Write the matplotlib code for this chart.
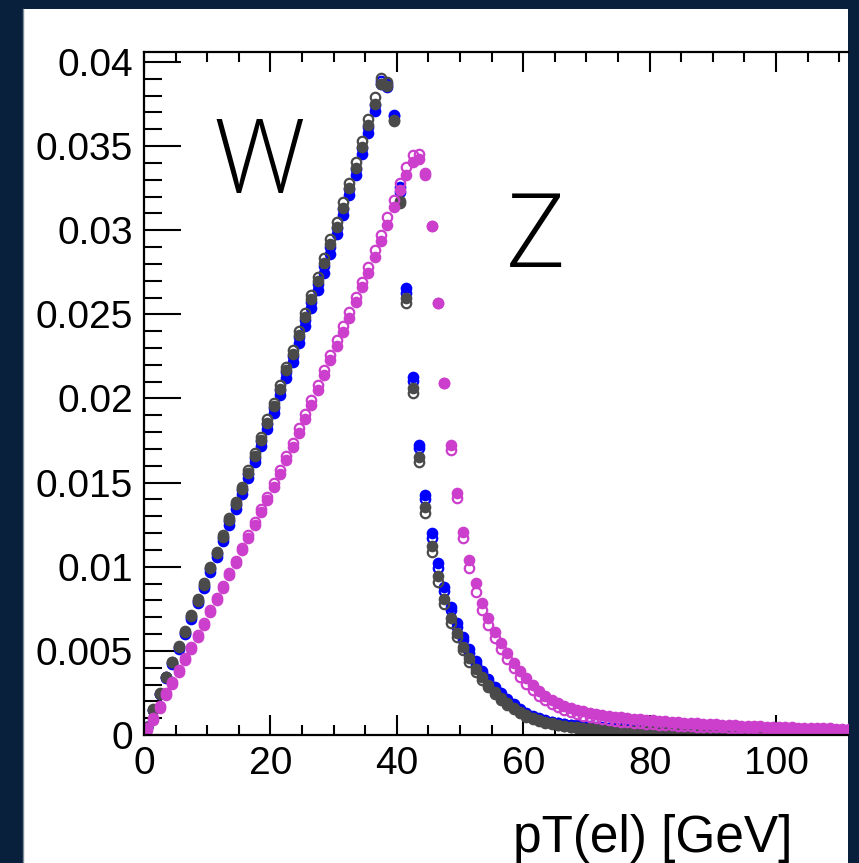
import numpy as np
import matplotlib
matplotlib.use("Agg")
import matplotlib.pyplot as plt
from matplotlib.patches import Rectangle
from matplotlib.lines import Line2D
from matplotlib.ticker import FixedLocator, FixedFormatter, MultipleLocator

plt.rcParams['font.family'] = ['Liberation Sans', 'DejaVu Sans']

# Electron pT spectra, 1 GeV bins starting at 0 GeV (normalised)
bin_width = 1.0

w_blue_fill = [
    0.00048, 0.00148, 0.00241, 0.00337, 0.00423, 0.00513, 0.00599, 0.00692, 0.00782, 0.00875,
    0.00970, 0.01057, 0.01153, 0.01249, 0.01345, 0.01432, 0.01528, 0.01624, 0.01720, 0.01820,
    0.01916, 0.02018, 0.02123, 0.02219, 0.02328, 0.02432, 0.02537, 0.02642, 0.02748, 0.02858,
    0.02978, 0.03093, 0.03211, 0.03330, 0.03452, 0.03579, 0.03707, 0.03868, 0.03854, 0.03685,
    0.03260, 0.02655, 0.02130, 0.01724, 0.01427, 0.01199, 0.01024, 0.00882, 0.00763, 0.00664,
    0.00584, 0.00509, 0.00440, 0.00382, 0.00331, 0.00287, 0.00248, 0.00212, 0.00182, 0.00155,
    0.00129, 0.00113, 0.00100, 0.00089, 0.00080, 0.00073, 0.00067, 0.00062, 0.00058, 0.00054,
    0.00051, 0.00048, 0.00046, 0.00044, 0.00042, 0.00040, 0.00039, 0.00037, 0.00036, 0.00035,
    0.00034, 0.00033, 0.00032, 0.00031, 0.00030, 0.00029, 0.00029, 0.00028, 0.00027, 0.00027,
    0.00026, 0.00026, 0.00025, 0.00025, 0.00024, 0.00024, 0.00023, 0.00023, 0.00022, 0.00022,
    0.00022, 0.00021, 0.00021, 0.00021, 0.00020, 0.00020, 0.00020, 0.00019, 0.00019, 0.00019,
    0.00018, 0.00018,
]

w_blue_open = [
    0.00049, 0.00151, 0.00244, 0.00342, 0.00429, 0.00521, 0.00609, 0.00702, 0.00794, 0.00888,
    0.00985, 0.01074, 0.01171, 0.01269, 0.01366, 0.01454, 0.01551, 0.01649, 0.01746, 0.01848,
    0.01945, 0.02049, 0.02156, 0.02254, 0.02364, 0.02469, 0.02576, 0.02683, 0.02790, 0.02902,
    0.03014, 0.03127, 0.03244, 0.03364, 0.03488, 0.03616, 0.03745, 0.03885, 0.03868, 0.03680,
    0.03230, 0.02626, 0.02106, 0.01704, 0.01401, 0.01170, 0.00995, 0.00858, 0.00740, 0.00643,
    0.00563, 0.00490, 0.00424, 0.00368, 0.00319, 0.00277, 0.00240, 0.00205, 0.00176, 0.00150,
    0.00124, 0.00108, 0.00095, 0.00084, 0.00076, 0.00069, 0.00063, 0.00058, 0.00054, 0.00050,
    0.00047, 0.00044, 0.00042, 0.00040, 0.00038, 0.00037, 0.00035, 0.00034, 0.00033, 0.00032,
    0.00031, 0.00030, 0.00029, 0.00028, 0.00027, 0.00026, 0.00026, 0.00025, 0.00024, 0.00024,
    0.00023, 0.00023, 0.00022, 0.00022, 0.00021, 0.00021, 0.00020, 0.00020, 0.00019, 0.00019,
    0.00019, 0.00018, 0.00018, 0.00018, 0.00017, 0.00017, 0.00017, 0.00016, 0.00016, 0.00016,
    0.00016, 0.00015,
]

w_gray_fill = [
    0.00050, 0.00151, 0.00246, 0.00344, 0.00432, 0.00524, 0.00612, 0.00706, 0.00798, 0.00893,
    0.00990, 0.01079, 0.01177, 0.01275, 0.01373, 0.01461, 0.01559, 0.01657, 0.01755, 0.01857,
    0.01955, 0.02059, 0.02167, 0.02265, 0.02376, 0.02482, 0.02589, 0.02697, 0.02805, 0.02917,
    0.03020, 0.03133, 0.03250, 0.03371, 0.03495, 0.03623, 0.03752, 0.03870, 0.03860, 0.03656,
    0.03175, 0.02600, 0.02060, 0.01654, 0.01357, 0.01125, 0.00945, 0.00808, 0.00694, 0.00604,
    0.00526, 0.00455, 0.00393, 0.00342, 0.00297, 0.00257, 0.00220, 0.00189, 0.00163, 0.00138,
    0.00117, 0.00101, 0.00088, 0.00078, 0.00069, 0.00062, 0.00056, 0.00050, 0.00046, 0.00042,
    0.00039, 0.00036, 0.00033, 0.00031, 0.00029, 0.00027, 0.00026, 0.00025, 0.00024, 0.00023,
    0.00022, 0.00021, 0.00020, 0.00019, 0.00018, 0.00018, 0.00017, 0.00017, 0.00016, 0.00016,
    0.00015, 0.00015, 0.00014, 0.00014, 0.00014, 0.00013, 0.00013, 0.00013, 0.00012, 0.00012,
    0.00012, 0.00011, 0.00011, 0.00011, 0.00011, 0.00010, 0.00010, 0.00010, 0.00010, 0.00010,
    0.00009, 0.00009,
]

w_gray_open = [
    0.00050, 0.00153, 0.00248, 0.00347, 0.00436, 0.00529, 0.00618, 0.00713, 0.00806, 0.00902,
    0.01000, 0.01090, 0.01189, 0.01288, 0.01387, 0.01476, 0.01575, 0.01674, 0.01773, 0.01876,
    0.01975, 0.02080, 0.02189, 0.02288, 0.02400, 0.02507, 0.02615, 0.02724, 0.02833, 0.02946,
    0.03051, 0.03165, 0.03283, 0.03405, 0.03530, 0.03660, 0.03790, 0.03907, 0.03883, 0.03650,
    0.03160, 0.02566, 0.02031, 0.01620, 0.01318, 0.01090, 0.00911, 0.00779, 0.00668, 0.00581,
    0.00505, 0.00436, 0.00376, 0.00327, 0.00283, 0.00244, 0.00208, 0.00178, 0.00153, 0.00129,
    0.00109, 0.00094, 0.00082, 0.00072, 0.00064, 0.00057, 0.00051, 0.00046, 0.00042, 0.00038,
    0.00035, 0.00032, 0.00030, 0.00028, 0.00026, 0.00024, 0.00023, 0.00022, 0.00021, 0.00020,
    0.00019, 0.00018, 0.00017, 0.00016, 0.00016, 0.00015, 0.00015, 0.00014, 0.00014, 0.00013,
    0.00013, 0.00012, 0.00012, 0.00012, 0.00011, 0.00011, 0.00011, 0.00010, 0.00010, 0.00010,
    0.00009, 0.00009, 0.00009, 0.00009, 0.00008, 0.00008, 0.00008, 0.00008, 0.00008, 0.00007,
    0.00007, 0.00007,
]

z_fill = [
    0.00028, 0.00091, 0.00160, 0.00236, 0.00305, 0.00374, 0.00444, 0.00513, 0.00582, 0.00656,
    0.00731, 0.00801, 0.00874, 0.00948, 0.01021, 0.01097, 0.01172, 0.01250, 0.01323, 0.01396,
    0.01475, 0.01553, 0.01635, 0.01713, 0.01797, 0.01881, 0.01963, 0.02051, 0.02140, 0.02227,
    0.02315, 0.02396, 0.02480, 0.02576, 0.02665, 0.02748, 0.02843, 0.02938, 0.03031, 0.03137,
    0.03240, 0.03329, 0.03408, 0.03422, 0.03329, 0.03025, 0.02566, 0.02094, 0.01724, 0.01437,
    0.01208, 0.01040, 0.00902, 0.00787, 0.00694, 0.00614, 0.00545, 0.00486, 0.00430, 0.00382,
    0.00337, 0.00297, 0.00262, 0.00234, 0.00210, 0.00190, 0.00174, 0.00160, 0.00149, 0.00140,
    0.00132, 0.00125, 0.00119, 0.00114, 0.00109, 0.00105, 0.00101, 0.00097, 0.00093, 0.00090,
    0.00087, 0.00084, 0.00081, 0.00078, 0.00076, 0.00073, 0.00071, 0.00069, 0.00067, 0.00065,
    0.00063, 0.00061, 0.00059, 0.00057, 0.00056, 0.00054, 0.00053, 0.00051, 0.00050, 0.00049,
    0.00047, 0.00046, 0.00045, 0.00044, 0.00043, 0.00042, 0.00041, 0.00040, 0.00039, 0.00038,
    0.00037, 0.00036,
]

z_open = [
    0.00040, 0.00103, 0.00172, 0.00248, 0.00317, 0.00386, 0.00456, 0.00525, 0.00594, 0.00668,
    0.00743, 0.00813, 0.00886, 0.00961, 0.01036, 0.01113, 0.01189, 0.01268, 0.01342, 0.01416,
    0.01496, 0.01575, 0.01658, 0.01737, 0.01823, 0.01908, 0.01991, 0.02080, 0.02170, 0.02259,
    0.02348, 0.02430, 0.02515, 0.02605, 0.02694, 0.02784, 0.02883, 0.02972, 0.03081, 0.03180,
    0.03280, 0.03378, 0.03447, 0.03453, 0.03342, 0.03025, 0.02566, 0.02094, 0.01694, 0.01407,
    0.01170, 0.00995, 0.00852, 0.00743, 0.00654, 0.00575, 0.00509, 0.00450, 0.00396, 0.00347,
    0.00303, 0.00265, 0.00233, 0.00206, 0.00183, 0.00164, 0.00148, 0.00135, 0.00124, 0.00115,
    0.00107, 0.00100, 0.00094, 0.00089, 0.00084, 0.00080, 0.00076, 0.00073, 0.00070, 0.00067,
    0.00064, 0.00062, 0.00060, 0.00058, 0.00056, 0.00054, 0.00052, 0.00050, 0.00049, 0.00047,
    0.00046, 0.00045, 0.00043, 0.00042, 0.00041, 0.00040, 0.00039, 0.00038, 0.00037, 0.00036,
    0.00035, 0.00034, 0.00033, 0.00033, 0.00032, 0.00031, 0.00030, 0.00030, 0.00029, 0.00028,
    0.00028, 0.00027,
]

x_tick_values = [0, 20, 40, 60, 80, 100]
x_tick_labels = ["0", "20", "40", "60", "80", "100"]
y_tick_values = [0, 0.005, 0.01, 0.015, 0.02, 0.025, 0.03, 0.035, 0.04]
y_tick_labels = ["0", "0.005", "0.01", "0.015", "0.02", "0.025", "0.03", "0.035", "0.04"]

BLUE = "#0000ff"
GRAY = "#4a4a4a"
MAGENTA = "#cc3fcc"
NAVY = "#08203c"

W_PX, H_PX = 859, 863
fig = plt.figure(figsize=(W_PX / 100, H_PX / 100), dpi=100)
fig.patch.set_facecolor(NAVY)

# white canvas behind the plot
panel = Rectangle((23 / W_PX, 0), (848 - 23) / W_PX, (863 - 9) / H_PX,
                  transform=fig.transFigure, facecolor="white",
                  edgecolor="none", zorder=-5)
fig.add_artist(panel)
fig.add_artist(Line2D([23 / W_PX, 23 / W_PX], [0, (863 - 9) / H_PX],
                      transform=fig.transFigure, color="#7d8a98", lw=1.0, zorder=-4))

ax = fig.add_axes([144 / W_PX, 128 / H_PX, 704 / W_PX, 683 / H_PX])
ax.set_facecolor("white")
ax.set_xlim(0, 704 / 6.32)
ax.set_ylim(0, 0.04 * 683 / 673)

n = len(w_blue_fill)
pt = np.arange(n) * bin_width + 0.5 * bin_width

fill_kw = dict(linestyle="none", marker="o", markersize=8.4, markeredgewidth=0)
open_kw = dict(linestyle="none", marker="o", markersize=6.8, markeredgewidth=1.6,
               markerfacecolor="none")

ax.plot(pt, w_blue_fill, color=BLUE, **fill_kw)
ax.plot(pt, w_blue_open, color=BLUE, **open_kw)
ax.plot(pt, w_gray_fill, color=GRAY, **fill_kw)
ax.plot(pt, w_gray_open, color=GRAY, **open_kw)
ax.plot(pt, z_fill, color=MAGENTA, **fill_kw)
ax.plot(pt, z_open, color=MAGENTA, **open_kw)

# ROOT-style frame: inward ticks, mirrored on top
ax.spines["right"].set_visible(False)
for side in ("left", "top", "bottom"):
    ax.spines[side].set_linewidth(1.6)

ax.xaxis.set_major_locator(FixedLocator(x_tick_values))
ax.xaxis.set_major_formatter(FixedFormatter(x_tick_labels))
ax.xaxis.set_minor_locator(MultipleLocator(5))
ax.yaxis.set_major_locator(FixedLocator(y_tick_values))
ax.yaxis.set_major_formatter(FixedFormatter(y_tick_labels))
ax.yaxis.set_minor_locator(MultipleLocator(0.001))

ax.tick_params(axis="both", which="both", direction="in", width=1.5, colors="black")
ax.tick_params(axis="x", which="both", top=True, bottom=True)
ax.tick_params(axis="y", which="both", left=True, right=False)
ax.tick_params(axis="x", which="major", length=14.5, labelsize=28, pad=8)
ax.tick_params(axis="x", which="minor", length=7.2)
ax.tick_params(axis="y", which="major", length=26.5, labelsize=28, pad=8)
ax.tick_params(axis="y", which="minor", length=13)

fig.text(792 / W_PX, 1 - 852 / H_PX, "pT(el) [GeV]", fontsize=37,
         ha="right", va="baseline", color="black")

light = dict(family=["Open Sans", "Liberation Sans", "DejaVu Sans"], fontweight="light")
fig.text(213 / W_PX, 1 - 193 / H_PX, "W", fontsize=74,
         ha="left", va="baseline", color="black", **light)
fig.text(506 / W_PX, 1 - 267 / H_PX, "Z", fontsize=74,
         ha="left", va="baseline", color="black", **light)

fig.savefig("out.png", dpi=100, facecolor=fig.get_facecolor())
